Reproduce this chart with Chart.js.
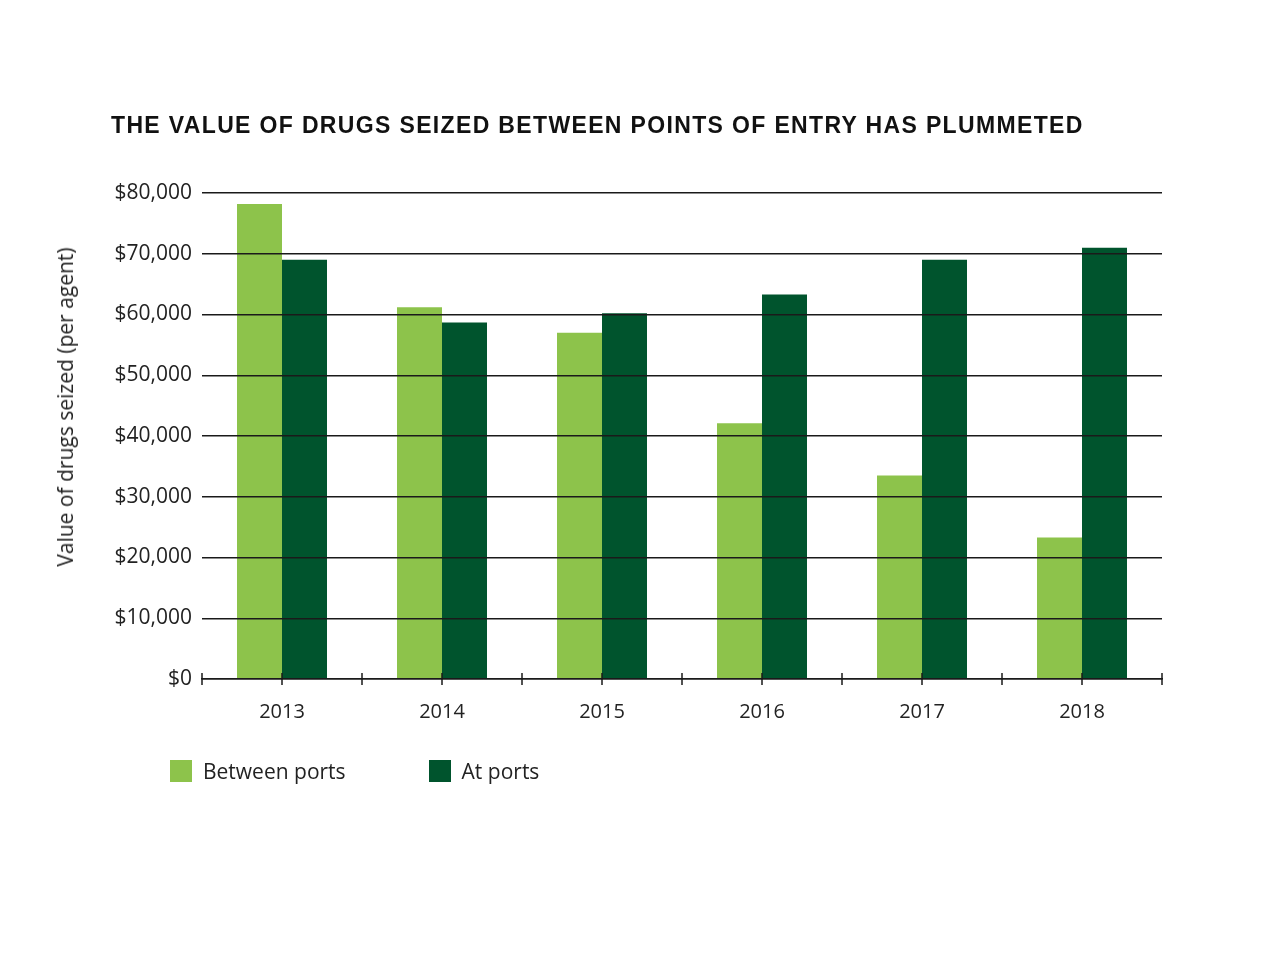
<!DOCTYPE html>
<html>
<head>
<meta charset="utf-8">
<script src="https://cdn.jsdelivr.net/npm/chart.js@4"></script>
<style>
  body { margin: 0; background: #fff; }
  #wrap { position: relative; width: 1284px; height: 963px; }
  #drugsChart { position: absolute; left: 0; top: 0; }
  .title {
    position: absolute; left: 111px; top: 114px;
    font: bold 23px "Liberation Sans", Arial, sans-serif;
    line-height: 23px; letter-spacing: 1.35px; color: #111; white-space: nowrap;
  }
  .y-title {
    position: absolute; left: 65px; top: 407px;
    transform: translate(-50%, -50%) rotate(-90deg);
    font: 21px "Open Sans", sans-serif; color: #222; white-space: nowrap;
  }
  #legend { position: absolute; left: 170px; top: 757px; display: flex; }
  .legend-item { display: flex; align-items: center; font: 21px "Open Sans", sans-serif; color: #222; }
  .legend-item span.box { width: 22px; height: 22px; display: inline-block; margin-right: 11px; }
  .legend-item + .legend-item { margin-left: 83px; }
</style>
</head>
<body>
<div id="wrap">
  <canvas id="drugsChart" width="1284" height="963"></canvas>
  <div class="title">THE VALUE OF DRUGS SEIZED BETWEEN POINTS OF ENTRY HAS PLUMMETED</div>
  <div class="y-title">Value of drugs seized (per agent)</div>
  <div id="legend"></div>
</div>
<script>
const years = ["2013", "2014", "2015", "2016", "2017", "2018"];
const betweenPorts = [78200, 61200, 57000, 42100, 33500, 23300];
const atPorts = [69000, 58700, 60200, 63300, 69000, 71000];
const yTicks = [0, 10000, 20000, 30000, 40000, 50000, 60000, 70000, 80000];

const lightGreen = "#8dc34b";
const darkGreen = "#00542d";

// small tick marks on the x axis, at every category edge and centre
const axisTicks = {
  id: "axisTicks",
  afterDraw(chart) {
    const x = chart.scales.x;
    const y0 = chart.scales.y.getPixelForValue(0);
    const half = (x.getPixelForValue(1) - x.getPixelForValue(0)) / 2;
    const ctx = chart.ctx;
    ctx.save();
    ctx.strokeStyle = "#1a1a1a";
    ctx.lineWidth = 1.5;
    ctx.beginPath();
    years.forEach((yr, i) => {
      const c = x.getPixelForValue(i);
      [c - half, c].forEach((px) => {
        ctx.moveTo(px, y0 - 6);
        ctx.lineTo(px, y0 + 6);
      });
      if (i === years.length - 1) {
        ctx.moveTo(c + half, y0 - 6);
        ctx.lineTo(c + half, y0 + 6);
      }
    });
    ctx.stroke();
    ctx.restore();
  },
};

const chart = new Chart(document.getElementById("drugsChart"), {
  type: "bar",
  data: {
    labels: years,
    datasets: [
      { label: "Between ports", data: betweenPorts, backgroundColor: lightGreen },
      { label: "At ports", data: atPorts, backgroundColor: darkGreen },
    ],
  },
  options: {
    responsive: false,
    animation: false,
    categoryPercentage: 0.5625,
    barPercentage: 1,
    layout: {
      padding: { left: 0, top: 193, right: 122, bottom: 240 },
    },
    plugins: {
      legend: { display: false },
      tooltip: { enabled: false },
      title: { display: false },
    },
    scales: {
      x: {
        grid: { display: false, drawTicks: false },
        border: { display: true, color: "#1a1a1a", width: 1.5, z: 1 },
        ticks: {
          padding: 21,
          color: "#222",
          font: { family: "Open Sans", size: 20 },
        },
        afterFit: (s) => { s.height = 44; },
      },
      y: {
        min: 0,
        max: 80000,
        afterBuildTicks: (s) => { s.ticks = yTicks.map((v) => ({ value: v })); },
        grid: { color: "#1a1a1a", lineWidth: 1.5, drawTicks: false, z: 1 },
        border: { display: false },
        ticks: {
          padding: 10,
          color: "#222",
          font: { family: "Open Sans", size: 21 },
          callback: (v) => "$" + v.toLocaleString("en-US"),
        },
        afterFit: (s) => { s.width = 202; },
      },
    },
  },
  plugins: [axisTicks],
});

// html legend built from the datasets
const legendEl = document.getElementById("legend");
chart.data.datasets.forEach((ds) => {
  const item = document.createElement("div");
  item.className = "legend-item";
  item.innerHTML = '<span class="box" style="background:' + ds.backgroundColor + '"></span>' + ds.label;
  legendEl.appendChild(item);
});
</script>
</body>
</html>
